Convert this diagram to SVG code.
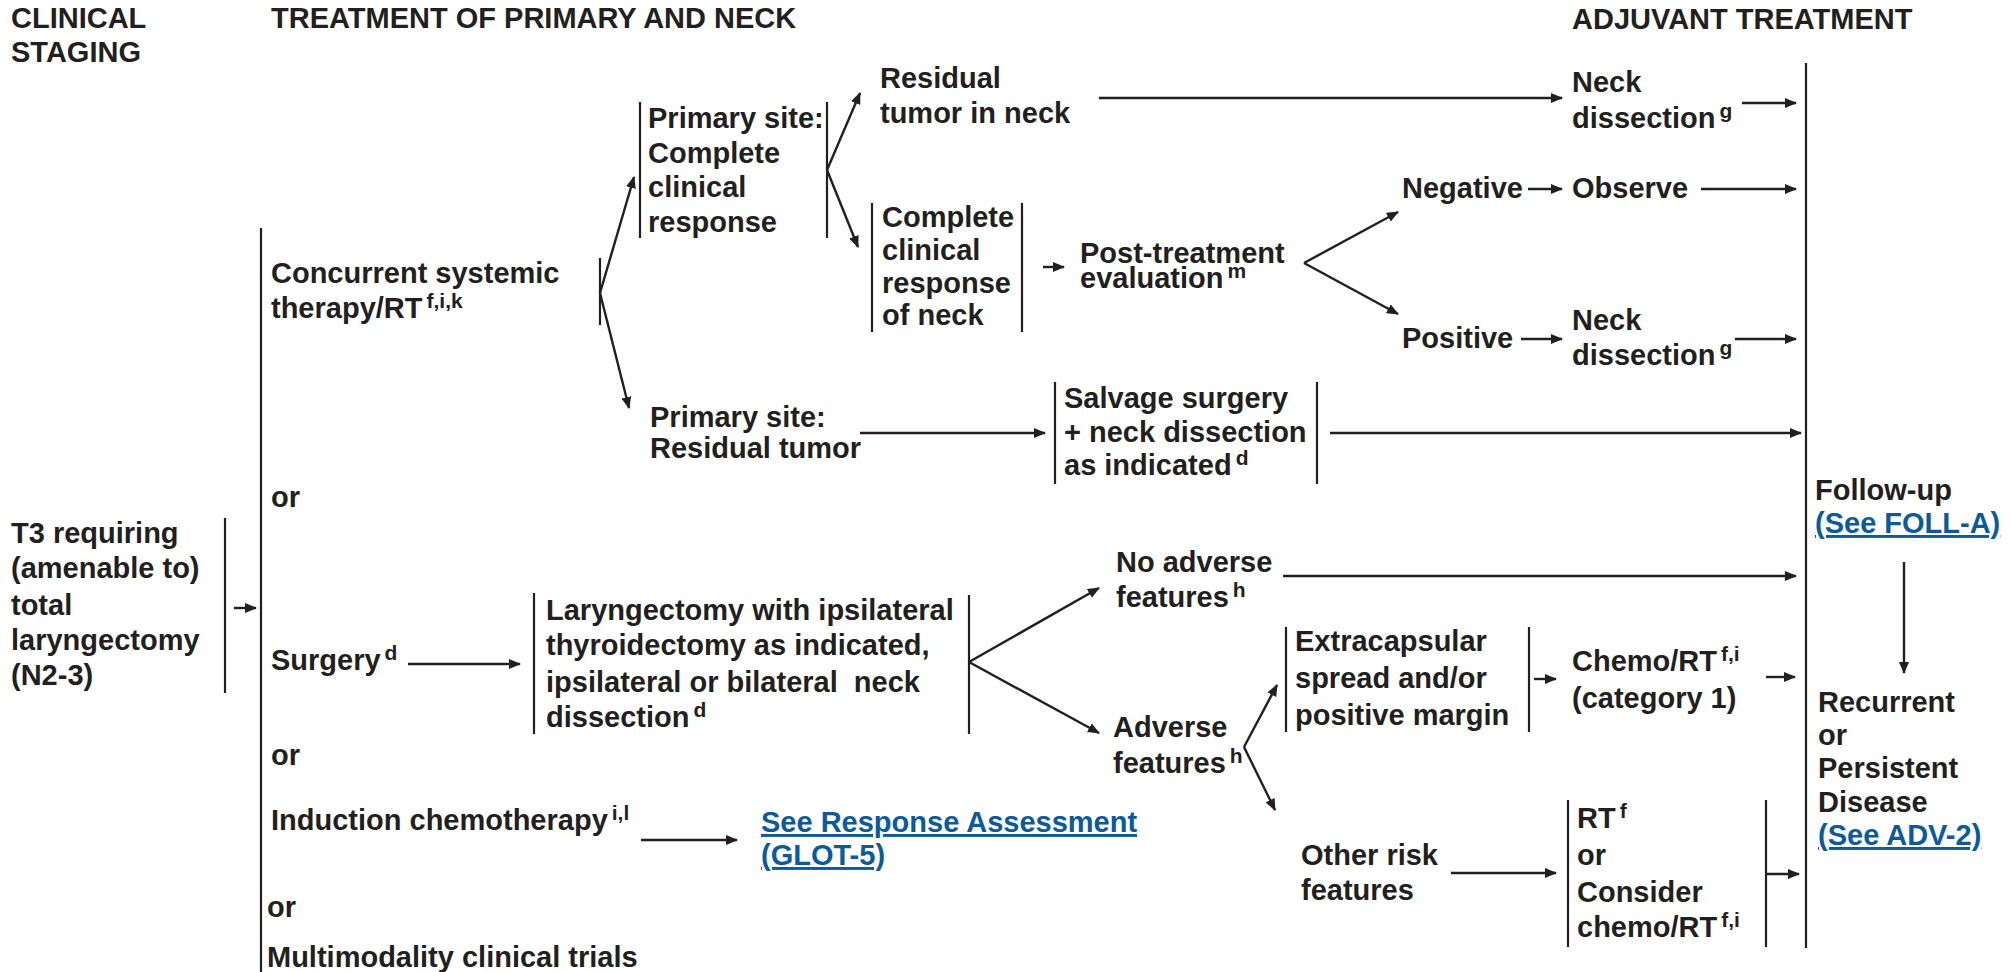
<svg xmlns="http://www.w3.org/2000/svg" width="2014" height="972" viewBox="0 0 2014 972">
  <style>
    text { font-family: "Liberation Sans", Arial, Helvetica, sans-serif; font-weight: bold; fill: #231f20; }
    .h { font-size: 29px; }
    .t { font-size: 29px; }
    .sup { font-size: 21px; }
    .link { fill: #0b5a9c; text-decoration: underline; }
    .br { stroke: #231f20; stroke-width: 2.2; fill: none; }
    .ar { stroke: #231f20; stroke-width: 2.4; fill: none; marker-end: url(#ah); }
  </style>
  <defs>
    <marker id="ah" viewBox="0 0 12 10" refX="11" refY="5" markerWidth="12" markerHeight="10" markerUnits="userSpaceOnUse" orient="auto">
      <path d="M0,0 L12,5 L0,10 z" fill="#231f20"/>
    </marker>
  </defs>
  <rect width="2014" height="972" fill="#ffffff"/>

  <!-- column headings -->
  <g id="headings">
    <text class="h" x="11" y="28">CLINICAL</text>
    <text class="h" x="11" y="62">STAGING</text>
    <text class="h" x="271" y="28">TREATMENT OF PRIMARY AND NECK</text>
    <text class="h" x="1572" y="29">ADJUVANT TREATMENT</text>
  </g>

  <!-- staging -->
  <g id="n-staging">
    <text class="t" x="11" y="543">T3 requiring</text>
    <text class="t" x="11" y="578">(amenable to)</text>
    <text class="t" x="11" y="615">total</text>
    <text class="t" x="11" y="650">laryngectomy</text>
    <text class="t" x="11" y="685">(N2-3)</text>
    <line class="br" x1="225" y1="518" x2="225" y2="693"/>
  </g>

  <!-- treatment options -->
  <g id="n-options">
    <line class="br" x1="261" y1="228" x2="261" y2="972"/>
    <text class="t" x="271" y="283">Concurrent systemic</text>
    <text class="t" x="271" y="318">therapy/RT<tspan class="sup" dx="4" dy="-10">f,i,k</tspan></text>
    <text class="t" x="271" y="507">or</text>
    <text class="t" x="271" y="670">Surgery<tspan class="sup" dx="4" dy="-10">d</tspan></text>
    <text class="t" x="271" y="765">or</text>
    <text class="t" x="271" y="830">Induction chemotherapy<tspan class="sup" dx="4" dy="-10">i,l</tspan></text>
    <text class="t" x="267" y="917">or</text>
    <text class="t" x="267" y="967">Multimodality clinical trials</text>
  </g>

  <g id="n-crt-split">
    <line class="br" x1="600" y1="258" x2="600" y2="325"/>
  </g>

  <g id="n-primary-complete">
    <line class="br" x1="640" y1="102" x2="640" y2="238"/>
    <line class="br" x1="827" y1="102" x2="827" y2="238"/>
    <text class="t" x="648" y="128">Primary site:</text>
    <text class="t" x="648" y="163">Complete</text>
    <text class="t" x="648" y="197">clinical</text>
    <text class="t" x="648" y="232">response</text>
  </g>

  <g id="n-residual-neck">
    <text class="t" x="880" y="88">Residual</text>
    <text class="t" x="880" y="123">tumor in neck</text>
  </g>

  <g id="n-complete-neck">
    <line class="br" x1="872" y1="203" x2="872" y2="332"/>
    <line class="br" x1="1022" y1="203" x2="1022" y2="332"/>
    <text class="t" x="882" y="227">Complete</text>
    <text class="t" x="882" y="260">clinical</text>
    <text class="t" x="882" y="293">response</text>
    <text class="t" x="882" y="325">of neck</text>
  </g>

  <g id="n-post-eval">
    <text class="t" x="1080" y="263">Post-treatment</text>
    <text class="t" x="1080" y="288">evaluation<tspan class="sup" dx="4" dy="-10">m</tspan></text>
  </g>

  <g id="n-negative"><text class="t" x="1402" y="198">Negative</text></g>
  <g id="n-observe"><text class="t" x="1572" y="198">Observe</text></g>
  <g id="n-positive"><text class="t" x="1402" y="348">Positive</text></g>

  <g id="n-neck-dissection-1">
    <text class="t" x="1572" y="92">Neck</text>
    <text class="t" x="1572" y="128">dissection<tspan class="sup" dx="4" dy="-10">g</tspan></text>
  </g>
  <g id="n-neck-dissection-2">
    <text class="t" x="1572" y="330">Neck</text>
    <text class="t" x="1572" y="365">dissection<tspan class="sup" dx="4" dy="-10">g</tspan></text>
  </g>

  <g id="n-primary-residual">
    <text class="t" x="650" y="427">Primary site:</text>
    <text class="t" x="650" y="458">Residual tumor</text>
  </g>

  <g id="n-salvage">
    <line class="br" x1="1055" y1="382" x2="1055" y2="484"/>
    <line class="br" x1="1317" y1="382" x2="1317" y2="484"/>
    <text class="t" x="1064" y="408">Salvage surgery</text>
    <text class="t" x="1064" y="442">+ neck dissection</text>
    <text class="t" x="1064" y="475">as indicated<tspan class="sup" dx="4" dy="-10">d</tspan></text>
  </g>

  <g id="n-laryngectomy">
    <line class="br" x1="534" y1="593" x2="534" y2="734"/>
    <line class="br" x1="969" y1="595" x2="969" y2="734"/>
    <text class="t" x="546" y="620">Laryngectomy with ipsilateral</text>
    <text class="t" x="546" y="655">thyroidectomy as indicated,</text>
    <text class="t" x="546" y="692">ipsilateral or bilateral&#160; neck</text>
    <text class="t" x="546" y="727">dissection<tspan class="sup" dx="4" dy="-10">d</tspan></text>
  </g>

  <g id="n-no-adverse">
    <text class="t" x="1116" y="572">No adverse</text>
    <text class="t" x="1116" y="607">features<tspan class="sup" dx="4" dy="-10">h</tspan></text>
  </g>

  <g id="n-adverse">
    <text class="t" x="1113" y="737">Adverse</text>
    <text class="t" x="1113" y="773">features<tspan class="sup" dx="4" dy="-10">h</tspan></text>
  </g>

  <g id="n-extracapsular">
    <line class="br" x1="1286" y1="627" x2="1286" y2="732"/>
    <line class="br" x1="1529" y1="627" x2="1529" y2="732"/>
    <text class="t" x="1295" y="651">Extracapsular</text>
    <text class="t" x="1295" y="688">spread and/or</text>
    <text class="t" x="1295" y="725">positive margin</text>
  </g>

  <g id="n-chemo-rt">
    <text class="t" x="1572" y="671">Chemo/RT<tspan class="sup" dx="4" dy="-10">f,i</tspan></text>
    <text class="t" x="1572" y="708">(category 1)</text>
  </g>

  <g id="n-other-risk">
    <text class="t" x="1301" y="865">Other risk</text>
    <text class="t" x="1301" y="900">features</text>
  </g>

  <g id="n-rt-options">
    <line class="br" x1="1568" y1="800" x2="1568" y2="947"/>
    <line class="br" x1="1766" y1="800" x2="1766" y2="947"/>
    <text class="t" x="1577" y="828">RT<tspan class="sup" dx="4" dy="-10">f</tspan></text>
    <text class="t" x="1577" y="865">or</text>
    <text class="t" x="1577" y="902">Consider</text>
    <text class="t" x="1577" y="937">chemo/RT<tspan class="sup" dx="4" dy="-10">f,i</tspan></text>
  </g>

  <g id="n-induction-link">
    <text class="t link" x="761" y="832">See Response Assessment</text>
    <text class="t link" x="761" y="865">(GLOT-5)</text>
  </g>

  <g id="n-adjuvant-bar">
    <line class="br" x1="1806" y1="63" x2="1806" y2="948"/>
  </g>

  <g id="n-follow-up">
    <text class="t" x="1815" y="500">Follow-up</text>
    <text class="t link" x="1815" y="533">(See FOLL-A)</text>
  </g>

  <g id="n-recurrent">
    <text class="t" x="1818" y="712">Recurrent</text>
    <text class="t" x="1818" y="745">or</text>
    <text class="t" x="1818" y="778">Persistent</text>
    <text class="t" x="1818" y="812">Disease</text>
    <text class="t link" x="1818" y="845">(See ADV-2)</text>
  </g>

  <!-- connectors -->
  <g id="connectors">
    <line class="ar" x1="234" y1="608" x2="256" y2="608"/>
    <line class="ar" x1="600" y1="293" x2="634" y2="177"/>
    <line class="ar" x1="600" y1="293" x2="629" y2="408"/>
    <line class="ar" x1="827" y1="170" x2="860" y2="93"/>
    <line class="ar" x1="827" y1="170" x2="858" y2="247"/>
    <line class="ar" x1="1099" y1="98" x2="1562" y2="98"/>
    <line class="ar" x1="1043" y1="267" x2="1064" y2="267"/>
    <line class="ar" x1="1304" y1="263" x2="1398" y2="212"/>
    <line class="ar" x1="1304" y1="263" x2="1398" y2="314"/>
    <line class="ar" x1="1528" y1="189" x2="1562" y2="189"/>
    <line class="ar" x1="1701" y1="189" x2="1796" y2="189"/>
    <line class="ar" x1="1521" y1="339" x2="1562" y2="339"/>
    <line class="ar" x1="1735" y1="339" x2="1796" y2="339"/>
    <line class="ar" x1="1742" y1="103" x2="1796" y2="103"/>
    <line class="ar" x1="860" y1="433" x2="1045" y2="433"/>
    <line class="ar" x1="1330" y1="433" x2="1801" y2="433"/>
    <line class="ar" x1="408" y1="664" x2="520" y2="664"/>
    <line class="ar" x1="969" y1="662" x2="1099" y2="588"/>
    <line class="ar" x1="969" y1="662" x2="1099" y2="733"/>
    <line class="ar" x1="1283" y1="576" x2="1796" y2="576"/>
    <line class="ar" x1="1244" y1="747" x2="1277" y2="685"/>
    <line class="ar" x1="1244" y1="747" x2="1275" y2="810"/>
    <line class="ar" x1="1534" y1="679" x2="1556" y2="679"/>
    <line class="ar" x1="1766" y1="677" x2="1795" y2="677"/>
    <line class="ar" x1="1451" y1="873" x2="1556" y2="873"/>
    <line class="ar" x1="1766" y1="874" x2="1799" y2="874"/>
    <line class="ar" x1="1904" y1="562" x2="1904" y2="673"/>
    <line class="ar" x1="641" y1="840" x2="737" y2="840"/>
  </g>
</svg>
